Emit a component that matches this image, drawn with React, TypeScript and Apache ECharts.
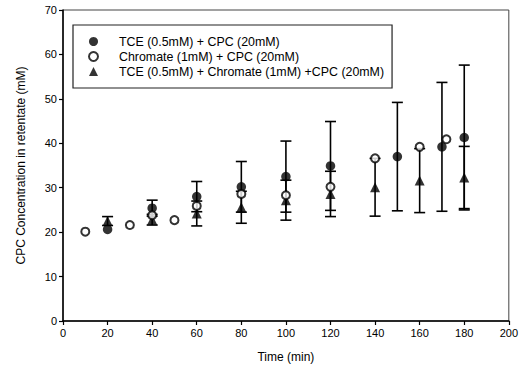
import React, { useEffect, useRef } from "react";
import * as echarts from "echarts";

const seriesNames = [
  "TCE (0.5mM) + CPC (20mM)",
  "Chromate (1mM) + CPC (20mM)",
  "TCE (0.5mM) + Chromate (1mM) +CPC (20mM)",
];

// [time, value, error]
const tceData: number[][] = [
  [20, 20.6, 0],
  [40, 25.4, 1.8],
  [60, 28.0, 3.4],
  [80, 30.2, 5.7],
  [100, 32.5, 8.0],
  [120, 34.9, 10.0],
  [150, 37.0, 12.2],
  [170, 39.2, 14.5],
  [180, 41.3, 16.3],
];

const chromateData: number[][] = [
  [10, 20.1, 0],
  [30, 21.6, 0],
  [40, 23.8, 0],
  [50, 22.7, 0],
  [60, 25.9, 0],
  [80, 28.6, 0],
  [100, 28.3, 0],
  [120, 30.2, 0],
  [140, 36.6, 0],
  [160, 39.2, 0],
  [172, 40.9, 0],
];

const mixData: number[][] = [
  [20, 22.5, 1.0],
  [40, 22.8, 1.2],
  [60, 24.2, 2.8],
  [80, 25.6, 3.6],
  [100, 27.2, 4.5],
  [120, 28.6, 5.1],
  [140, 30.1, 6.5],
  [160, 31.6, 7.2],
  [180, 32.3, 7.0],
];

const xTicks = { min: 0, max: 200, interval: 20 };
const yTicks = { min: 0, max: 70, interval: 10 };

const FONT = "'Liberation Sans', Arial, sans-serif";

function errorSeries(data: number[][]) {
  const d = data.filter((p) => p[2] > 0).map((p) => [p[0], p[1] - p[2], p[1] + p[2]]);
  return {
    type: "custom",
    silent: true,
    z: 1,
    data: d,
    encode: { x: 0, y: [1, 2] },
    renderItem: (params: any, api: any) => {
      const x = api.value(0);
      const lo = api.coord([x, api.value(1)]);
      const hi = api.coord([x, api.value(2)]);
      const hw = 5.5;
      const style = { stroke: "#000", lineWidth: 1.6 };
      return {
        type: "group",
        children: [
          { type: "line", shape: { x1: lo[0], y1: lo[1], x2: hi[0], y2: hi[1] }, style },
          { type: "line", shape: { x1: lo[0] - hw, y1: lo[1], x2: lo[0] + hw, y2: lo[1] }, style },
          { type: "line", shape: { x1: hi[0] - hw, y1: hi[1], x2: hi[0] + hw, y2: hi[1] }, style },
        ],
      };
    },
  };
}

export default function App() {
  const ref = useRef<HTMLDivElement>(null);
  useEffect(() => {
    if (!ref.current) return;
    const chart = echarts.init(ref.current, null, { renderer: "svg" });
    chart.setOption({
      animation: false,
      backgroundColor: "#fff",
      textStyle: { fontFamily: FONT },
      grid: {
        left: 63,
        right: 10,
        top: 10,
        bottom: 55,
        show: true,
        borderColor: "#444",
        borderWidth: 1,
      },
      legend: {
        data: [
          { name: seriesNames[0], icon: "circle" },
          { name: seriesNames[1], icon: "circle" },
          { name: seriesNames[2], icon: "triangle" },
        ],
        orient: "vertical",
        left: 73,
        top: 25,
        padding: [10, 8, 10, 15],
        itemGap: 2,
        itemWidth: 9,
        itemHeight: 9,
        borderColor: "#222",
        borderWidth: 1.2,
        backgroundColor: "#fff",
        textStyle: {
          fontFamily: FONT,
          fontSize: 12.4,
          color: "#000",
          lineHeight: 13,
          padding: [0, 0, 0, 16],
        },
      },
      xAxis: {
        type: "value",
        min: xTicks.min,
        max: xTicks.max,
        interval: xTicks.interval,
        name: "Time (min)",
        nameLocation: "middle",
        nameGap: 30,
        nameTextStyle: { fontFamily: FONT, fontSize: 12, color: "#000" },
        splitLine: { show: false },
        axisLine: { lineStyle: { color: "#000", width: 1.5 } },
        axisTick: { length: 4, lineStyle: { color: "#000", width: 1.2 } },
        axisLabel: { fontFamily: FONT, fontSize: 11, color: "#000", margin: 6 },
      },
      yAxis: {
        type: "value",
        min: yTicks.min,
        max: yTicks.max,
        interval: yTicks.interval,
        name: "CPC Concentration in retentate (mM)",
        nameLocation: "middle",
        nameGap: 36,
        nameRotate: 90,
        nameTextStyle: { fontFamily: FONT, fontSize: 12, color: "#000" },
        splitLine: { show: false },
        axisLine: { lineStyle: { color: "#000", width: 1.5 } },
        axisTick: { length: 4, lineStyle: { color: "#000", width: 1.2 } },
        axisLabel: { fontFamily: FONT, fontSize: 11, color: "#000", margin: 6 },
      },
      series: [
        errorSeries(tceData),
        errorSeries(mixData),
        errorSeries(chromateData),
        {
          name: seriesNames[0],
          type: "scatter",
          z: 3,
          symbol: "circle",
          symbolSize: 9.5,
          itemStyle: { color: "#000" },
          data: tceData.map((p) => [p[0], p[1]]),
        },
        {
          name: seriesNames[1],
          type: "scatter",
          z: 4,
          symbol: "circle",
          symbolSize: 8,
          itemStyle: { color: "#fff", borderColor: "#000", borderWidth: 2 },
          data: chromateData.map((p) => [p[0], p[1]]),
        },
        {
          name: seriesNames[2],
          type: "scatter",
          z: 3,
          symbol: "triangle",
          symbolSize: 10,
          itemStyle: { color: "#000" },
          data: mixData.map((p) => [p[0], p[1]]),
        },
      ],
    });
    return () => chart.dispose();
  }, []);
  return (
    <div
      ref={ref}
      style={{ position: "absolute", left: 0, top: 0, width: 521, height: 376 }}
    />
  );
}
